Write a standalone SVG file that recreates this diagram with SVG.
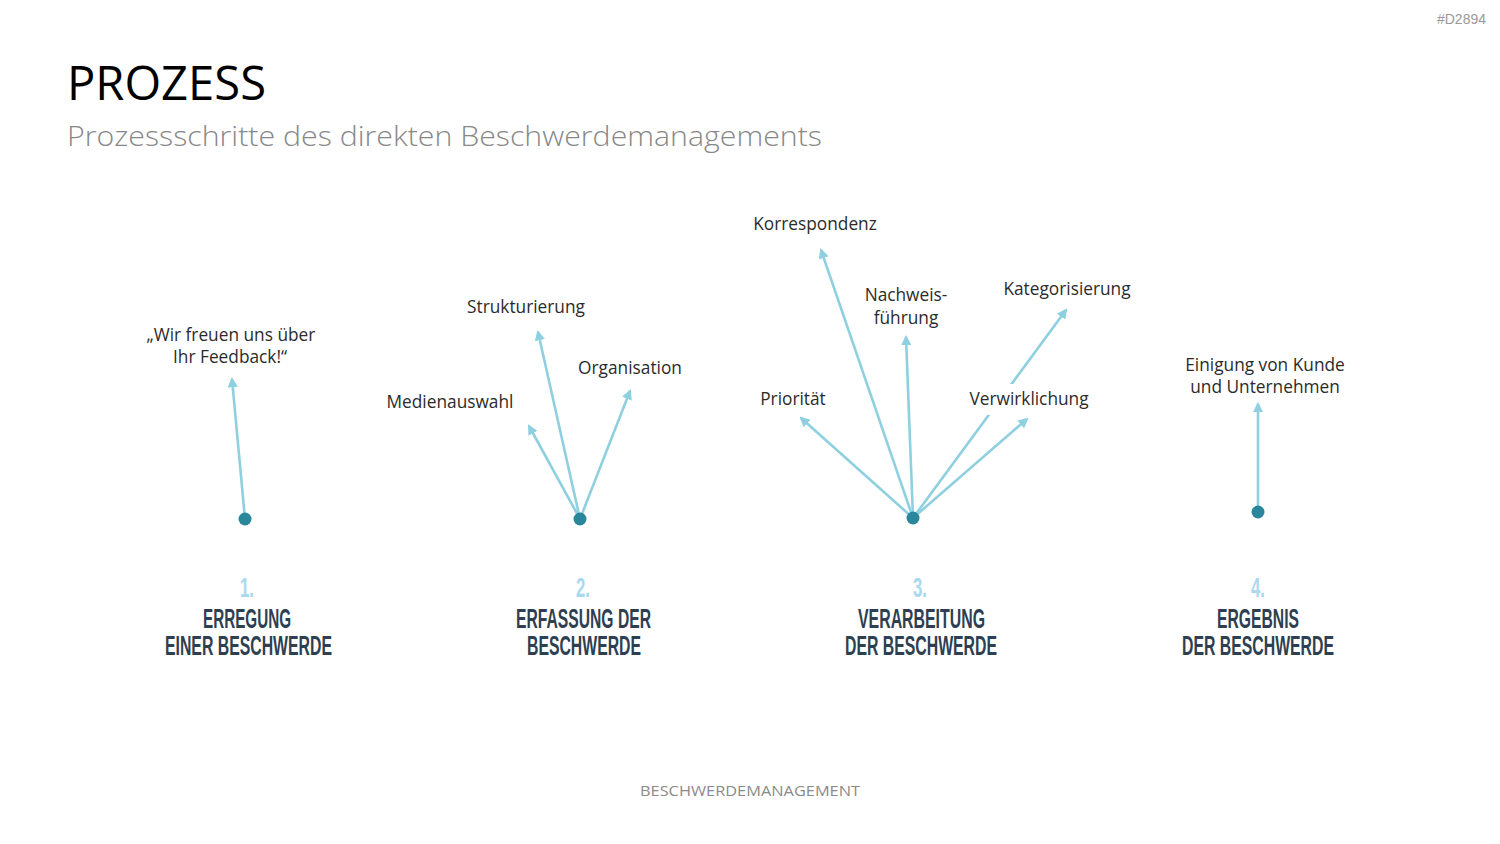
<svg xmlns="http://www.w3.org/2000/svg" width="1500" height="844" viewBox="0 0 1500 844">
<style>
.lbl{font-family:"Open Sans","Liberation Sans",sans-serif;font-size:17.3px;fill:#2b2b2b;text-anchor:middle}
.step{font-family:"Liberation Sans","DejaVu Sans",sans-serif;font-weight:bold;font-size:27px;fill:#2e3f52;text-anchor:middle}
.num{font-family:"Liberation Sans","DejaVu Sans",sans-serif;font-weight:bold;font-size:27px;fill:#a9d9ef;text-anchor:middle}
.arr{stroke:#8fd0e0;stroke-width:2.6;fill:none;marker-end:url(#ah)}
.dot{fill:#2a879b}
</style>
<defs>
<marker id="ah" viewBox="0 0 10 10" refX="8" refY="5" markerWidth="4" markerHeight="4" orient="auto" markerUnits="strokeWidth">
<path d="M0,0 L10,5 L0,10 z" fill="#8fd0e0"/>
</marker>
</defs>
<rect width="1500" height="844" fill="#ffffff"/>
<text x="1486" y="24" font-family="Liberation Sans,sans-serif" font-size="14" fill="#999" text-anchor="end">#D2894</text>
<text x="67" y="100" font-family="Open Sans,Liberation Sans,sans-serif" font-size="47" fill="#000" textLength="199" lengthAdjust="spacingAndGlyphs">PROZESS</text>
<text x="67" y="146" font-family="Open Sans,Liberation Sans,sans-serif" font-size="28" font-weight="300" fill="#888" textLength="755" lengthAdjust="spacingAndGlyphs">Prozessschritte des direkten Beschwerdemanagements</text>

<g id="connectors">
<line class="arr" x1="245" y1="519" x2="232" y2="379"/>
<line class="arr" x1="580" y1="519" x2="529" y2="426"/>
<line class="arr" x1="580" y1="519" x2="538" y2="332"/>
<line class="arr" x1="580" y1="519" x2="630" y2="391"/>
<line class="arr" x1="913" y1="518" x2="801" y2="418"/>
<line class="arr" x1="913" y1="518" x2="821" y2="250"/>
<line class="arr" x1="913" y1="518" x2="906" y2="337"/>
<line class="arr" x1="913" y1="518" x2="1066" y2="310"/>
<line class="arr" x1="913" y1="518" x2="1027" y2="419"/>
<line class="arr" x1="1258" y1="512" x2="1258" y2="404"/>
</g>

<g id="step1">
<circle class="dot" cx="245" cy="519" r="6.5"/>
<text class="lbl" x="231" y="341">„Wir freuen uns über</text>
<text class="lbl" x="230" y="363">Ihr Feedback!“</text>
<text class="num" x="247" y="597" textLength="14" lengthAdjust="spacingAndGlyphs">1.</text>
<text class="step" x="247" y="628" textLength="88" lengthAdjust="spacingAndGlyphs">ERREGUNG</text>
<text class="step" x="248.5" y="655" textLength="167" lengthAdjust="spacingAndGlyphs">EINER BESCHWERDE</text>
</g>

<g id="step2">
<circle class="dot" cx="580" cy="519" r="6.5"/>
<text class="lbl" x="526" y="313">Strukturierung</text>
<text class="lbl" x="630" y="374">Organisation</text>
<text class="lbl" x="450" y="408">Medienauswahl</text>
<text class="num" x="583" y="597" textLength="14" lengthAdjust="spacingAndGlyphs">2.</text>
<text class="step" x="583.5" y="628" textLength="135" lengthAdjust="spacingAndGlyphs">ERFASSUNG DER</text>
<text class="step" x="584" y="655" textLength="114" lengthAdjust="spacingAndGlyphs">BESCHWERDE</text>
</g>

<g id="step3">
<circle class="dot" cx="913" cy="518" r="6.5"/>
<text class="lbl" x="815" y="230">Korrespondenz</text>
<text class="lbl" x="906" y="301">Nachweis-</text>
<text class="lbl" x="906" y="324">führung</text>
<text class="lbl" x="1067" y="295">Kategorisierung</text>
<text class="lbl" x="793" y="405">Priorität</text>
<rect x="968" y="384" width="122" height="31" fill="#ffffff"/>
<text class="lbl" x="1029" y="405">Verwirklichung</text>
<text class="num" x="920" y="597" textLength="14" lengthAdjust="spacingAndGlyphs">3.</text>
<text class="step" x="921.5" y="628" textLength="127" lengthAdjust="spacingAndGlyphs">VERARBEITUNG</text>
<text class="step" x="921" y="655" textLength="152" lengthAdjust="spacingAndGlyphs">DER BESCHWERDE</text>
</g>

<g id="step4">
<circle class="dot" cx="1258" cy="512" r="6.5"/>
<text class="lbl" x="1265" y="371">Einigung von Kunde</text>
<text class="lbl" x="1265" y="393">und Unternehmen</text>
<text class="num" x="1258" y="597" textLength="14" lengthAdjust="spacingAndGlyphs">4.</text>
<text class="step" x="1258" y="628" textLength="82" lengthAdjust="spacingAndGlyphs">ERGEBNIS</text>
<text class="step" x="1258" y="655" textLength="152" lengthAdjust="spacingAndGlyphs">DER BESCHWERDE</text>
</g>

<text x="750" y="796" font-family="Open Sans,Liberation Sans,sans-serif" font-size="15" fill="#8a8a8a" text-anchor="middle" textLength="220" lengthAdjust="spacingAndGlyphs">BESCHWERDEMANAGEMENT</text>
</svg>
